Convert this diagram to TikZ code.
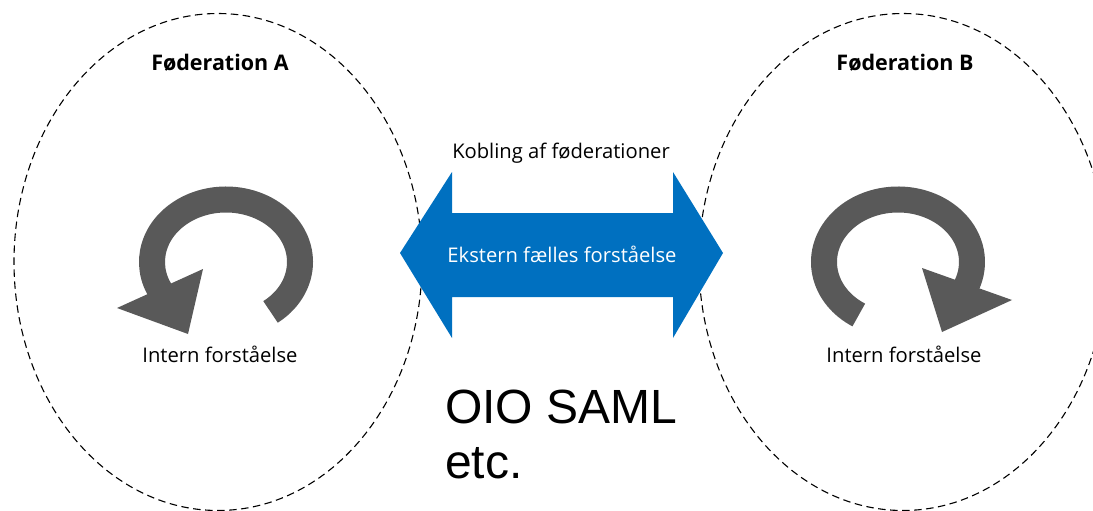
\documentclass[tikz,border=0pt]{standalone}
\usepackage{fontspec}
\setmainfont{Open Sans}
\newfontfamily\samlfont{Liberation Sans}
\usetikzlibrary{shapes.geometric, positioning}
\definecolor{extblue}{HTML}{0070C0}
\definecolor{loopgray}{HTML}{595959}

\begin{document}
\begin{tikzpicture}[x=1pt, y=1pt]
\tikzstyle{fed} = [ellipse, draw, dash pattern=on 7.5pt off 4.5pt, line width=1.1pt, minimum width=408pt, minimum height=497pt, inner sep=0pt]
\tikzstyle{fedtitle} = [font=\fontsize{21.5}{24}\selectfont\bfseries]
\tikzstyle{smalltxt} = [font=\fontsize{20.2}{24}\selectfont]
\tikzstyle{bigtxt} = [font=\samlfont\fontsize{48}{55}\selectfont, anchor=base west, inner sep=0pt]
\tikzstyle{ring} = [loopgray, line width=26pt, x radius=74pt, y radius=62.5pt]

\useasboundingbox (0,0) rectangle (1093,-511);
\clip (0,0) rectangle (1093,-511);

% federations
\node (fedA) [fed] at (218,-262) {};
\node (fedB) [fed] at (903,-262) {};
\node (titleA) [fedtitle] at (220,-63) {Føderation A};
\node (titleB) [fedtitle] at (905,-63) {Føderation B};

% internal loops
\draw [ring] (226,-262) ++(-53:74pt and 62.5pt) arc [start angle=-53, end angle=215];
\fill [loopgray] (117,-308) -- (203,-269) -- (188,-334) -- cycle;
\draw [ring] (898,-262) ++(238:74pt and 62.5pt) arc [start angle=238, end angle=-35];
\fill [loopgray] (922,-268) -- (1012,-300) -- (942,-332) -- cycle;
\node (intA) [smalltxt] at (220,-354) {Intern forståelse};
\node (intB) [smalltxt] at (904,-354) {Intern forståelse};

% coupling arrow
\fill [extblue] (400,-253) -- (452,-172) -- (452,-213) -- (673,-213) -- (673,-172)
  -- (723,-253) -- (673,-338) -- (673,-297) -- (452,-297) -- (452,-338) -- cycle;
\node (ext) [smalltxt, text=white] at (562,-254) {Ekstern fælles forståelse};
\node (kob) [smalltxt] at (561,-153) {Kobling af føderationer};

\node (saml) [bigtxt] at (445,-423) {OIO SAML};
\node (etc) [bigtxt] at (445,-478) {etc.};
\end{tikzpicture}
\end{document}
